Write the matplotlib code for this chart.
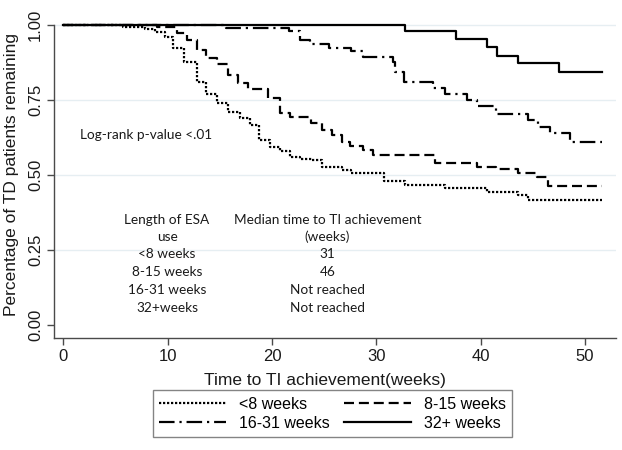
import matplotlib
matplotlib.use("Agg")
import matplotlib.pyplot as plt
from matplotlib.lines import Line2D

# ---- data (weeks, fraction remaining) ----
t_lt8 = [0, 5.7, 7.8, 8.8, 9.7, 10.5, 11.6, 12.8, 13.7, 14.7, 15.8, 16.9, 17.9, 18.7,
         19.8, 20.8, 21.7, 22.7, 23.8, 24.8, 26.7, 27.6, 30.7, 32.7, 36.6, 40.6, 43.6,
         44.5, 51.6]
s_lt8 = [1.0, 0.994, 0.987, 0.978, 0.961, 0.922, 0.878, 0.811, 0.77, 0.74, 0.711, 0.689,
         0.667, 0.617, 0.594, 0.581, 0.561, 0.554, 0.55, 0.526, 0.517, 0.506, 0.481, 0.467,
         0.456, 0.444, 0.433, 0.417, 0.417]

t_8_15 = [0, 9.0, 10.9, 11.8, 12.8, 13.7, 14.7, 15.8, 16.7, 17.7, 19.6, 20.8, 21.7, 23.7,
          24.8, 25.7, 26.7, 27.5, 28.7, 29.7, 35.6, 39.6, 41.5, 43.6, 45.4, 46.5, 51.6]
s_8_15 = [1.0, 0.994, 0.972, 0.95, 0.917, 0.889, 0.869, 0.833, 0.806, 0.786, 0.756, 0.706,
          0.693, 0.674, 0.65, 0.633, 0.611, 0.597, 0.583, 0.567, 0.54, 0.528, 0.519, 0.506,
          0.494, 0.463, 0.463]

t_16_31 = [0, 15.6, 21.6, 22.7, 23.6, 25.5, 27.6, 28.7, 31.6, 31.8, 32.6, 35.4, 36.6, 38.7,
           39.6, 41.5, 44.5, 45.5, 46.6, 48.6, 51.6]
s_16_31 = [1.0, 0.989, 0.98, 0.95, 0.936, 0.924, 0.913, 0.894, 0.878, 0.844, 0.811, 0.791,
           0.769, 0.75, 0.731, 0.704, 0.683, 0.661, 0.639, 0.611, 0.611]

t_32p = [0, 32.7, 37.6, 40.6, 41.6, 43.6, 47.5, 51.6]
s_32p = [1.0, 0.98, 0.953, 0.926, 0.898, 0.872, 0.844, 0.844]

groups = ["<8 weeks", "8-15 weeks", "16-31 weeks", "32+ weeks"]
table_groups = ["<8 weeks", "8-15 weeks", "16-31 weeks", "32+weeks"]
table_medians = ["31", "46", "Not reached", "Not reached"]
x_ticks = [0, 10, 20, 30, 40, 50]
y_ticks = [0.0, 0.25, 0.5, 0.75, 1.0]

INK = "#1a1a1a"; AXIS = "#4a4a4a"; GRID = "#e6eef2"
ARIAL = "Liberation Sans"; CALIBRI = "Lato"

fig = plt.figure(figsize=(6.22, 4.5), dpi=100)
ax = fig.add_axes([0.0868, 0.249, 0.9035, 0.709])
ax.set_xlim(-0.91, 52.97)
ax.set_ylim(-0.043, 1.02)

for yv in y_ticks[1:]:
    ax.axhline(yv, color=GRID, lw=1.0, zorder=1)

styles = [(0, (1, 0.8)), (0, (4.5, 2.2)), (0, (7, 2.2, 1, 2.2)), "-"]
series = [(t_lt8, s_lt8), (t_8_15, s_8_15), (t_16_31, s_16_31), (t_32p, s_32p)]
handles = []
for (t, s), ls, lab in zip(series, styles, groups):
    ax.step(t, s, where="post", color="black", lw=1.6, linestyle=ls, zorder=3)
    handles.append(Line2D([], [], color="black", lw=1.6, linestyle=ls, label=lab))

ax.spines["top"].set_visible(False)
ax.spines["right"].set_visible(False)
ax.spines["left"].set_bounds(-0.043, 1.0)
for sp in ("left", "bottom"):
    ax.spines[sp].set_color(AXIS)
    ax.spines[sp].set_linewidth(1.0)

ax.set_xticks(x_ticks, [str(v) for v in x_ticks], fontsize=12, family=ARIAL, color=INK)
ax.set_yticks(y_ticks, [f"{v:.2f}" for v in y_ticks], fontsize=12, family=ARIAL,
              color=INK, rotation=90, va="center")
ax.tick_params(axis="both", length=5, width=1.0, color=AXIS, pad=3)

ax.set_xlabel("Time to TI achievement(weeks)", fontsize=12.5, family=ARIAL, color=INK)
ax.xaxis.set_label_coords(0.482, -0.132)
ax.xaxis.label.set_va("center")
ax.set_ylabel("Percentage of TD patients remaining", fontsize=12.5, family=ARIAL, color=INK)
ax.yaxis.set_label_coords(-0.075, 0.511)
ax.yaxis.label.set_va("center")

# annotations inside the plot
TXT = dict(fontsize=9.8, family=CALIBRI, color=INK)
ax.text(1.58, 0.633, "Log-rank p-value <.01", ha="left", va="center", **TXT)
ax.text(9.93, 0.35, "Length of ESA", ha="center", va="center", **TXT)
ax.text(9.93, 0.293, "use", ha="center", va="center", **TXT)
ax.text(25.3, 0.35, "Median time to TI achievement", ha="center", va="center", **TXT)
ax.text(25.3, 0.293, "(weeks)", ha="center", va="center", **TXT)
for i, (g, m) in enumerate(zip(table_groups, table_medians)):
    yy = 0.237 - i * 0.06
    ax.text(9.93, yy, g, ha="center", va="center", **TXT)
    ax.text(25.3, yy, m, ha="center", va="center", **TXT)

order = [handles[0], handles[2], handles[1], handles[3]]
leg = fig.legend(handles=order, loc="center", ncol=2, mode="expand",
                 bbox_to_anchor=(0.246, 0.022, 0.577, 0.118), borderaxespad=0,
                 prop={"family": ARIAL, "size": 11.5}, handlelength=4.2,
                 handletextpad=0.8, columnspacing=2.0, labelspacing=0.25,
                 fancybox=False, frameon=True)
leg.get_frame().set_edgecolor("#666666")
leg.get_frame().set_linewidth(1.0)

fig.savefig("out.png", dpi=100)
